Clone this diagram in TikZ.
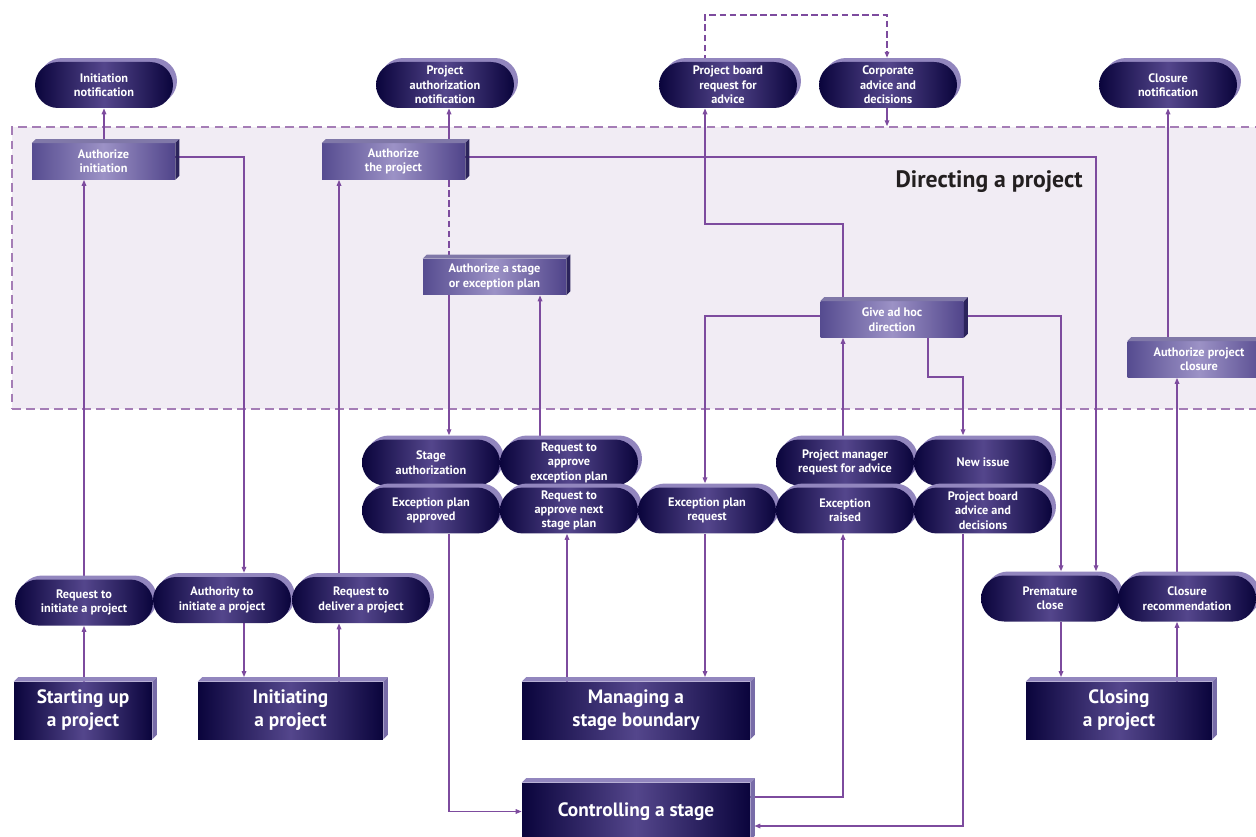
\documentclass[tikz,border=0pt]{standalone}
\usepackage{fontspec}
\setmainfont{PT Sans}
\usetikzlibrary{shapes.misc,arrows.meta}
\definecolor{navy}{RGB}{10,4,60}
\definecolor{navymid}{RGB}{84,70,140}
\definecolor{lav}{RGB}{146,134,190}
\definecolor{lavside}{RGB}{120,108,168}
\definecolor{authL}{RGB}{86,76,144}
\definecolor{authR}{RGB}{80,68,138}
\definecolor{authM}{RGB}{156,146,198}
\definecolor{authTop}{RGB}{128,120,168}
\definecolor{authSide}{RGB}{44,36,92}
\definecolor{connc}{RGB}{125,75,158}
\definecolor{dashc}{RGB}{165,125,182}
\definecolor{dirfill}{RGB}{241,236,244}
\definecolor{titlec}{RGB}{35,31,32}
\pgfdeclarelayer{bg}\pgfdeclarelayer{lines}\pgfsetlayers{bg,lines,main}
\tikzset{
 pill/.style={rounded rectangle, minimum width=2.76cm, minimum height=0.92cm, inner sep=0pt,
   align=center, text=white, font=\fontsize{7}{8.2}\selectfont\bfseries,
   preaction={fill=lav, transform canvas={xshift=2.27pt,yshift=2.27pt}},
   left color=navy, right color=navy, middle color=navymid},
 authbox/.style={rectangle, minimum width=2.86cm, minimum height=0.72cm, inner sep=0pt,
   align=center, text=white, font=\fontsize{7}{8.2}\selectfont\bfseries,
   left color=authL, right color=authR, middle color=authM},
 procbox/.style={rectangle, minimum height=1.14cm, inner sep=0pt,
   align=center, text=white, font=\fontsize{11}{13}\selectfont\bfseries,
   left color=navy, right color=navy, middle color=navymid},
 conn/.style={draw=connc, line width=0.75pt, -{Triangle[length=3.4pt,width=2.6pt]}},
 plainline/.style={draw=connc, line width=0.75pt},
 dashline/.style={draw=connc, line width=0.75pt, dash pattern=on 3.8pt off 2pt},
}
\begin{document}
\begin{tikzpicture}[x=0.02cm,y=-0.02cm]
\useasboundingbox (0,0) rectangle (1256,837);
\begin{pgfonlayer}{bg}
\node[draw=dashc, fill=dirfill, dash pattern=on 5pt off 3pt, line width=0.85pt,
  minimum width=25.16cm, minimum height=5.64cm, inner sep=0pt] (dir) at (641,268) {};
\end{pgfonlayer}
\node[anchor=base east, inner sep=0pt, text=titlec, font=\fontsize{13.5}{15}\selectfont\bfseries] (title) at (1083,188) {Directing a project};

% top notifications
\node[pill] (initnot) at (104,85) {Initiation\\notification};
\node[pill] (pan) at (445,85) {Project\\authorization\\notification};
\node[pill] (pbr) at (728,85) {Project board\\request for\\advice};
\node[pill] (cad) at (888,85) {Corporate\\advice and\\decisions};
\node[pill] (cn) at (1168,85) {Closure\\notification};

% authorize boxes
\node[authbox] (ai) at (103.5,161.5) {Authorize\\initiation};
\node[authbox] (ap) at (393.5,161.5) {Authorize\\the project};
\node[authbox] (as) at (494.5,277) {Authorize a stage\\or exception plan};
\node[authbox] (gah) at (892,319.5) {Give ad hoc\\direction};
\node[authbox] (apc) at (1199,359.5) {Authorize project\\closure};
\foreach \n in {ai,ap,as,gah,apc}{
  \fill[authTop] (\n.north west) -- ([shift={(4,-4)}]\n.north west) -- ([shift={(4,-4)}]\n.north east) -- (\n.north east) -- cycle;
  \fill[authSide] (\n.north east) -- ([shift={(4,-4)}]\n.north east) -- ([shift={(4,-4)}]\n.south east) -- (\n.south east) -- cycle;
}

% middle rows
\node[pill] (sa) at (431,462.5) {Stage\\authorization};
\node[pill] (rae) at (569,462.5) {Request to\\approve\\exception plan};
\node[pill] (pmra) at (845,462.5) {Project manager\\request for advice};
\node[pill] (ni) at (983,462.5) {New issue};
\node[pill] (epa) at (431,510.5) {Exception plan\\approved};
\node[pill] (rns) at (569,510.5) {Request to\\approve next\\stage plan};
\node[pill] (epr) at (707,510.5) {Exception plan\\request};
\node[pill] (er) at (845,510.5) {Exception\\raised};
\node[pill] (pbad) at (983,510.5) {Project board\\advice and\\decisions};

\node[pill] (pc) at (1050,598.5) {Premature\\close};
\node[pill] (cr) at (1187,598.5) {Closure\\recommendation};

\node[pill] (ri) at (84,602.5) {Request to\\initiate a project};
\node[pill] (ait) at (222,600) {Authority to\\initiate a project};
\node[pill] (rd) at (361,600) {Request to\\deliver a project};

% process boxes
\node[procbox, minimum width=2.76cm] (su) at (83,710.5) {Starting up\\a project};
\node[procbox, minimum width=3.7cm] (ip) at (290.5,710.5) {Initiating\\a project};
\node[procbox, minimum width=4.56cm] (msb) at (636,710.5) {Managing a\\stage boundary};
\node[procbox, minimum width=4.56cm] (cs) at (636,811.5) {Controlling a stage};
\node[procbox, minimum width=3.72cm] (cp) at (1119,710.5) {Closing\\a project};
\foreach \n in {su,ip,msb,cs,cp}{
  \fill[lav] (\n.north west) -- ([shift={(4.5,-4.5)}]\n.north west) -- ([shift={(4.5,-4.5)}]\n.north east) -- (\n.north east) -- cycle;
  \fill[lavside] (\n.north east) -- ([shift={(4.5,-4.5)}]\n.north east) -- ([shift={(4.5,-4.5)}]\n.south east) -- (\n.south east) -- cycle;
}

\begin{pgfonlayer}{lines}
\draw[conn] (104,0 |- ai.north) -- (104,0 |- initnot.south);
\draw[conn] (84,0 |- ri.north) -- (84,0 |- ai.south);
\draw[conn] (84,0 |- su.north) -- (84,0 |- ri.south);
\draw[conn, shorten >=2.2pt] (ai.east |- 0,157) -| (244,0 |- ait.north);
\draw[conn, shorten >=2.6pt] (244,0 |- ait.south) -- (244,0 |- ip.north);
\draw[conn] (339,0 |- ip.north) -- (339,0 |- rd.south);
\draw[conn] (339,0 |- rd.north) -- (339,0 |- ap.south);
\draw[conn] (449,0 |- ap.north) -- (449,0 |- pan.south);
\draw[dashline] (449,0 |- ap.south) -- (449,0 |- as.north);
\draw[conn, shorten >=2.2pt] (ap.east |- 0,157) -| (1096,0 |- pc.north);
\draw[conn, shorten >=2.2pt] (gah.east |- 0,316) -| (1061,0 |- pc.north);
\draw[conn, shorten >=2.2pt] (gah.west |- 0,316) -| (705,0 |- epr.north);
\draw[conn, shorten >=2.2pt] (928,0 |- gah.south) -- (928,377) -| (963,0 |- ni.north);
\draw[conn] (843,0 |- pmra.north) -- (843,0 |- gah.south);
\draw[conn, shorten >=2.2pt] (449,0 |- as.south) -- (449,0 |- sa.north);
\draw[conn] (540,0 |- rae.north) -- (540,0 |- as.south);
\draw[conn] (843,0 |- gah.north) -- (843,224) -| (705,0 |- pbr.south);
\draw[dashline, -{Triangle[length=3.4pt,width=2.6pt]}, shorten >=2.2pt] (705,0 |- pbr.north) -- (705,15) -| (887,0 |- cad.north);
\draw[conn] (887,0 |- cad.south) -- (887,0 |- dir.north);
\draw[conn] (1168,0 |- apc.north) -- (1168,0 |- cn.south);
\draw[conn] (1177,0 |- cr.north) -- (1177,0 |- apc.south);
\draw[conn] (1177,0 |- cp.north) -- (1177,0 |- cr.south);
\draw[conn, shorten >=2.6pt] (1061,0 |- pc.south) -- (1061,0 |- cp.north);
\draw[conn] (449,0 |- epa.south) |- (cs.west);
\draw[conn] (567,0 |- msb.north) -- (567,0 |- rns.south);
\draw[conn, shorten >=2.6pt] (705,0 |- epr.south) -- (705,0 |- msb.north);
\draw[conn] (cs.east |- 0,797) -| (843,0 |- er.south);
\draw[conn, shorten >=2.3pt] (963,0 |- pbad.south) |- (cs.east |- 0,826);
\end{pgfonlayer}
\end{tikzpicture}
\end{document}
